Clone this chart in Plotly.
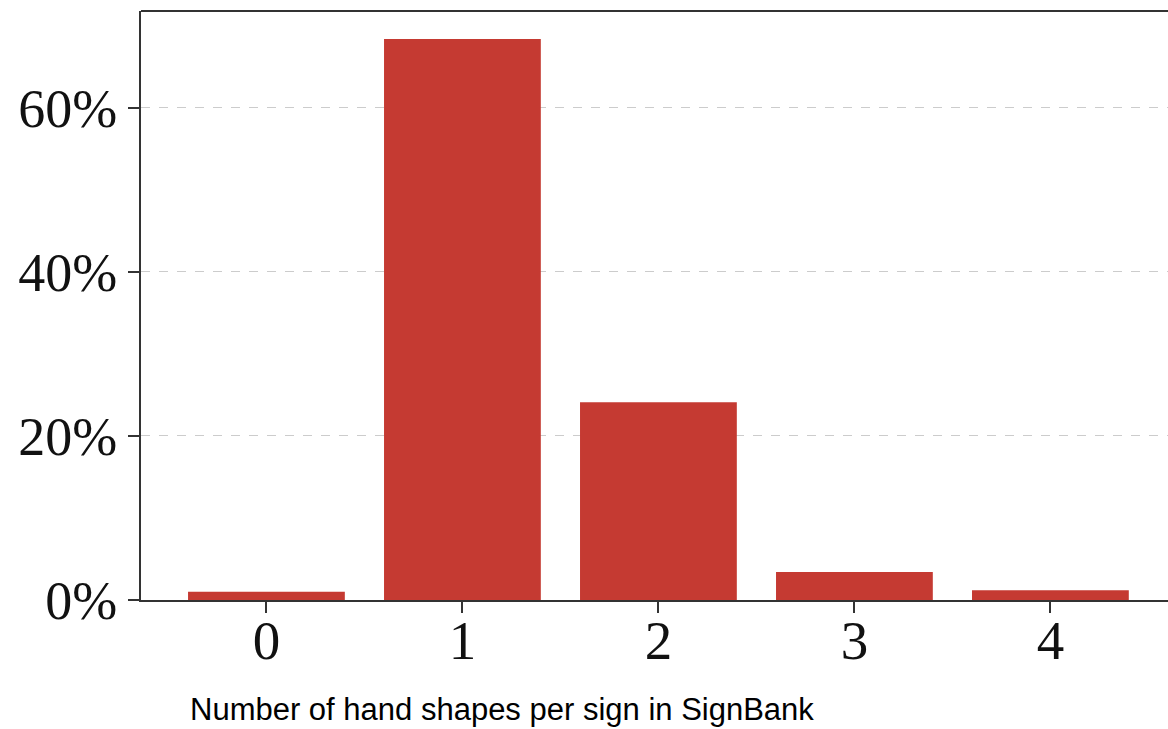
import plotly.graph_objects as go

categories = ["0", "1", "2", "3", "4"]
percent_values = [1.0, 68.4, 24.1, 3.4, 1.2]
y_tick_values = [0, 20, 40, 60]
y_tick_labels = ["0%", "20%", "40%", "60%"]
x_title = "Number of hand shapes per sign in SignBank"

fig = go.Figure()
fig.add_trace(go.Bar(
    x=[int(c) for c in categories],
    y=percent_values,
    marker=dict(color="#C53A32", line=dict(width=0)),
    width=0.8,
))

fig.update_layout(
    width=1168, height=729,
    margin=dict(l=141, r=0, t=11, b=129),
    paper_bgcolor="white", plot_bgcolor="white",
    showlegend=False,
    bargap=0.2,
    xaxis=dict(
        range=[-0.64, 4.6],
        tickvals=[0, 1, 2, 3, 4],
        ticktext=categories,
        showline=True, linecolor="#333333", linewidth=2,
        ticks="outside", ticklen=11, tickwidth=2, tickcolor="#333333",
        showgrid=False, zeroline=False,
        ticklabelstandoff=-20,
        tickfont=dict(family="Liberation Serif", size=55, color="#111111"),
    ),
    yaxis=dict(
        range=[0, 71.8],
        tickvals=y_tick_values,
        ticktext=y_tick_labels,
        showline=True, linecolor="#333333", linewidth=2,
        ticks="outside", ticklen=11, tickwidth=2, tickcolor="#333333",
        showgrid=True, gridcolor="#cccccc", griddash="dash", gridwidth=1,
        zeroline=False,
        tickfont=dict(family="Liberation Serif", size=54, color="#111111"),
    ),
    shapes=[dict(type="line", xref="paper", yref="paper", x0=0, x1=1, y0=1, y1=1,
                 line=dict(color="#333333", width=2))],
    annotations=[dict(
        text=x_title, xref="paper", yref="paper",
        x=(188 - 141) / 1027, y=-(709 - 600) / 589,
        xanchor="left", yanchor="middle", showarrow=False,
        font=dict(family="Liberation Sans", size=31, color="#000000"),
    )],
)

fig.write_html("out.html", config={"displayModeBar": False},
               post_script="document.body.style.margin='0';")
